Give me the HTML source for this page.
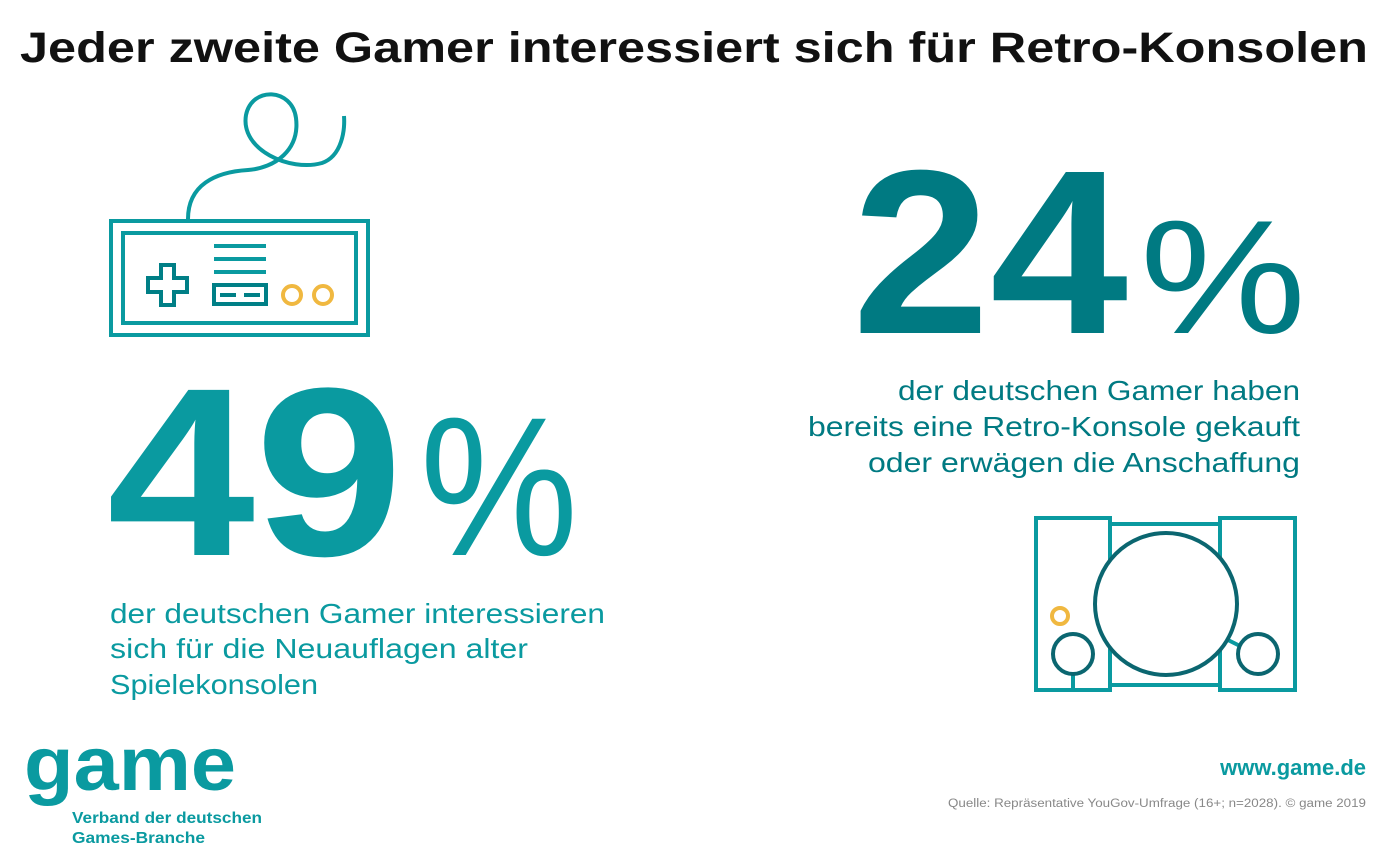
<!DOCTYPE html>
<html><head><meta charset="utf-8"><style>
body{margin:0;background:#fff;}
svg{display:block;font-family:"Liberation Sans",sans-serif;}
</style></head><body>
<svg width="1392" height="859" viewBox="0 0 1392 859">
<text x="20" y="62" font-size="43" font-weight="bold" fill="#111" textLength="1348" lengthAdjust="spacingAndGlyphs">Jeder zweite Gamer interessiert sich für Retro-Konsolen</text>

<g fill="none" stroke-width="4">
<path d="M188,219 C188,185 215,172 248,170 C275,168 300,150 296,118 C292,88 252,86 246,115 C240,150 290,172 322,163 C342,156 345,130 344,116" stroke="#0a9aa0"/>
<rect x="111" y="221" width="257" height="114" stroke="#0a9aa0"/>
<rect x="123" y="233" width="233" height="90" stroke="#0a9aa0"/>
<path d="M161,265 h13 v13 h13 v14 h-13 v13 h-13 v-13 h-13 v-14 h13 z" stroke="#007f86"/>
<path d="M214,246 h52 M214,259 h52 M214,272 h52" stroke="#0a9aa0"/>
<rect x="214" y="285" width="52" height="19" stroke="#007f86"/>
<path d="M220,295 h16 M244,295 h16" stroke="#007f86"/>
<circle cx="292" cy="295" r="9" stroke="#f0b840"/>
<circle cx="323" cy="295" r="9" stroke="#f0b840"/>
</g>

<g fill="#0a9aa0">
<text x="107" y="555" font-size="240" font-weight="bold" textLength="296" lengthAdjust="spacingAndGlyphs">49</text>
<text x="420" y="555" font-size="198" textLength="158" lengthAdjust="spacingAndGlyphs">%</text>
</g>
<g fill="#0a9aa0" font-size="28">
<text x="110" y="623" textLength="495" lengthAdjust="spacingAndGlyphs">der deutschen Gamer interessieren</text>
<text x="110" y="658" textLength="418" lengthAdjust="spacingAndGlyphs">sich für die Neuauflagen alter</text>
<text x="110" y="694" textLength="208" lengthAdjust="spacingAndGlyphs">Spielekonsolen</text>
</g>

<g fill="#007a82">
<text x="852" y="333" font-size="234" font-weight="bold" textLength="276" lengthAdjust="spacingAndGlyphs">24</text>
<text x="1140" y="333" font-size="162" textLength="166" lengthAdjust="spacingAndGlyphs">%</text>
</g>
<g fill="#007a82" font-size="28" text-anchor="end">
<text x="1300" y="400" textLength="402" lengthAdjust="spacingAndGlyphs">der deutschen Gamer haben</text>
<text x="1300" y="436" textLength="492" lengthAdjust="spacingAndGlyphs">bereits eine Retro-Konsole gekauft</text>
<text x="1300" y="472" textLength="432" lengthAdjust="spacingAndGlyphs">oder erwägen die Anschaffung</text>
</g>

<g fill="none" stroke-width="4">
<rect x="1036" y="518" width="74" height="172" stroke="#0a9aa0"/>
<rect x="1220" y="518" width="75" height="172" stroke="#0a9aa0"/>
<path d="M1110,524 h110 M1110,685 h110" stroke="#0a9aa0"/>
<path d="M1073,674 v16 M1228,640 l12,6" stroke="#0a9aa0"/>
<circle cx="1166" cy="604" r="71" fill="#fff" stroke="#0b6670"/>
<circle cx="1073" cy="654" r="20" stroke="#0b6670"/>
<circle cx="1258" cy="654" r="20" stroke="#0b6670"/>
<circle cx="1060" cy="616" r="8" stroke="#f0b840"/>
</g>

<g fill="#0a9aa0" font-weight="bold">
<text x="24" y="790" font-size="76" textLength="212" lengthAdjust="spacingAndGlyphs">game</text>
<text x="72" y="823" font-size="16" textLength="190" lengthAdjust="spacingAndGlyphs">Verband der deutschen</text>
<text x="72" y="843" font-size="16" textLength="133" lengthAdjust="spacingAndGlyphs">Games-Branche</text>
</g>
<text x="1366" y="775" font-size="22" font-weight="bold" fill="#0a9aa0" text-anchor="end">www.game.de</text>
<text x="1366" y="807" font-size="11.5" fill="#888" text-anchor="end" textLength="418" lengthAdjust="spacingAndGlyphs">Quelle: Repräsentative YouGov-Umfrage (16+; n=2028). © game 2019</text>
</svg>
</body></html>
